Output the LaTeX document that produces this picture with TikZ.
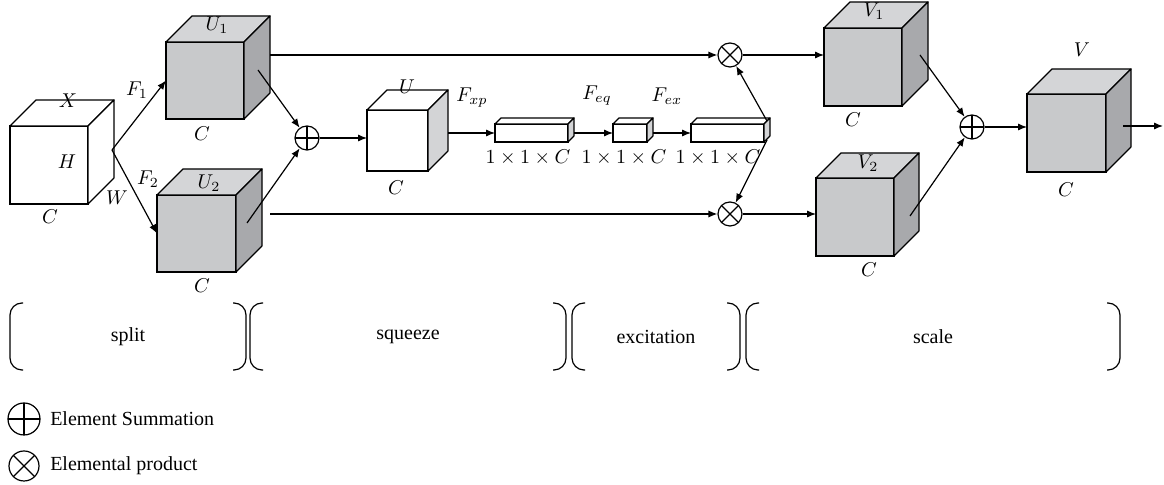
\documentclass[tikz,border=0pt]{standalone}
\usepackage{fontspec}
\setmainfont{Liberation Serif}
\usetikzlibrary{arrows.meta}

\definecolor{facefront}{HTML}{C8C9CB}
\definecolor{facetop}{HTML}{D4D5D7}
\definecolor{faceside}{HTML}{A8A9AC}
\definecolor{facelight}{HTML}{D3D4D6}

\tikzset{
  frontg/.style={draw, fill=facefront, inner sep=0pt, outer sep=0pt},
  topg/.style={draw, fill=facetop, line join=round},
  sideg/.style={draw, fill=faceside, line join=round},
  frontw/.style={draw, fill=white, inner sep=0pt, outer sep=0pt},
  topw/.style={draw, fill=white, line join=round},
  sidew/.style={draw, fill=white, line join=round},
  frontu/.style={draw, fill=white, inner sep=0pt, outer sep=0pt},
  topu/.style={draw, fill=white, line join=round},
  sideu/.style={draw, fill=facelight, line join=round},
  sumop/.style={circle, draw, fill=white, minimum size=12pt, inner sep=0pt,
    path picture={\draw (path picture bounding box.north) -- (path picture bounding box.south)
      (path picture bounding box.west) -- (path picture bounding box.east);}},
  prodop/.style={circle, draw, fill=white, minimum size=12pt, inner sep=0pt,
    path picture={\draw (path picture bounding box.north west) -- (path picture bounding box.south east)
      (path picture bounding box.south west) -- (path picture bounding box.north east);}},
  brace/.style={rounded corners=6pt},
}

% name, x, y, width, height, depth, kind
\newcommand\cubebox[7]{%
  \node[front#7, minimum width=#4*0.5pt, minimum height=#5*0.5pt, anchor=north west] (#1) at (#2,#3) {};
  \draw[top#7] (#1.north west) -- ++(#6,-#6) -- ++(#4,0) -- (#1.north east) -- cycle;
  \draw[side#7] (#1.north east) -- ++(#6,-#6) -- ++(0,#5) -- (#1.south east) -- cycle;
}

\begin{document}
\begin{tikzpicture}[x=0.5pt, y=-0.5pt, line width=0.6pt,
    font=\fontsize{10}{12}\selectfont, >={Latex[length=4.5pt,width=3.6pt]}]
\useasboundingbox (0,0) rectangle (1164,485);

% cubes
\cubebox{X}{10}{126}{78}{78}{26}{w}
\cubebox{U1}{166}{42}{78}{77}{26}{g}
\cubebox{U2}{157}{195}{79}{77}{26}{g}
\cubebox{U}{367}{110}{61}{61}{20}{u}
\cubebox{b1}{495}{124}{73}{18}{6}{u}
\cubebox{b2}{613}{124}{34}{18}{6}{u}
\cubebox{b3}{691}{124}{73}{18}{6}{u}
\cubebox{V1}{824}{28}{78}{78}{26}{g}
\cubebox{V2}{816}{178}{78}{78}{25}{g}
\cubebox{V}{1027}{94}{79}{78}{25}{g}

% operators
\node[sumop] (sum1) at (307,138) {};
\node[prodop] (prod1) at (730,55) {};
\node[prodop] (prod2) at (730,214) {};
\node[sumop] (sum2) at (972,127) {};

% labels
\node (lX) at (68,101) {$X$};
\node (lH) at (67,162) {$H$};
\node (lW) at (117,198) {$W$};
\node (lCx) at (50,217) {$C$};
\node (lF1) at (137,90) {$F_1$};
\node (lF2) at (148,179) {$F_2$};
\node (lU1) at (217,25) {$U_1$};
\node (lC1) at (202,134) {$C$};
\node (lU2) at (209,183) {$U_2$};
\node (lC2) at (202,286) {$C$};
\node (lU) at (407,87) {$U$};
\node (lFxp) at (472,98) {$F_{xp}$};
\node (lCu) at (396,188) {$C$};
\node (lFeq) at (597,96) {$F_{eq}$};
\node (lFex) at (667,96) {$F_{ex}$};
\node (s1) at (528,158) {$1\times1\times C$};
\node (s2) at (624,158) {$1\times1\times C$};
\node (s3) at (718,158) {$1\times1\times C$};
\node (lV1) at (874,11) {$V_1$};
\node (lCv1) at (853,120) {$C$};
\node (lV2) at (868,163) {$V_2$};
\node (lCv2) at (869,270) {$C$};
\node (lV) at (1082,50) {$V$};
\node (lCv) at (1066,190) {$C$};

% split
\coordinate (xs) at (112,150);
\draw[->] (xs) -- (U1.west);
\draw[->] (xs) -- (U2.west);

% fuse
\coordinate (u1s) at (258,70);
\coordinate (u2s) at (247,223);
\draw[->] (u1s) -- (sum1);
\draw[->] (u2s) -- (sum1);
\draw[->] (sum1) -- (sum1 -| U.west);

% squeeze and excitation
\coordinate (uo) at (448,133);
\draw[->] (uo) -- (uo -| b1.west);
\draw[->] ([xshift=3pt]b1.east) -- (b2.west);
\draw[->] ([xshift=3pt]b2.east) -- (b3.west);
\coordinate (b3u) at (767,121);
\coordinate (b3d) at (767,140);
\draw[->] (b3u) -- (prod1);
\draw[->] (b3d) -- (prod2);

% scale
\coordinate (u1r) at (270,55);
\coordinate (u2r) at (270,214);
\draw[->] (u1r) -- (prod1);
\draw[->] (u2r) -- (prod2);
\draw[->] (prod1) -- (prod1 -| V1.west);
\draw[->] (prod2) -- (prod2 -| V2.west);
\coordinate (v1s) at (920,55);
\coordinate (v2s) at (910,216);
\draw[->] (v1s) -- (sum2);
\draw[->] (v2s) -- (sum2);
\draw[->] (sum2) -- (sum2 -| V.west);
\coordinate (vs) at (1123,126);
\coordinate (vend) at (1163,126);
\draw[->] (vs) -- (vend);

% stage brackets
\foreach \x in {10,250,572,746}
  \draw[brace] (\x+13,303) -- (\x,303) -- (\x,370) -- (\x+13,370);
\foreach \x in {246,566,740,1120}
  \draw[brace] (\x-13,303) -- (\x,303) -- (\x,370) -- (\x-13,370);
\node (split) at (128,337) {split};
\node (squeeze) at (408,337) {squeeze};
\node (excite) at (656,337) {excitation};
\node (scale) at (933,337) {scale};

% legend
\node[sumop, minimum size=16pt] (keysum) at (24,419) {};
\node[anchor=west] (keysumtxt) at (43,419) {Element Summation};
\node[prodop, minimum size=15pt] (keyprod) at (24,466) {};
\node[anchor=west] (keyprodtxt) at (43,466) {Elemental product};
\end{tikzpicture}
\end{document}
